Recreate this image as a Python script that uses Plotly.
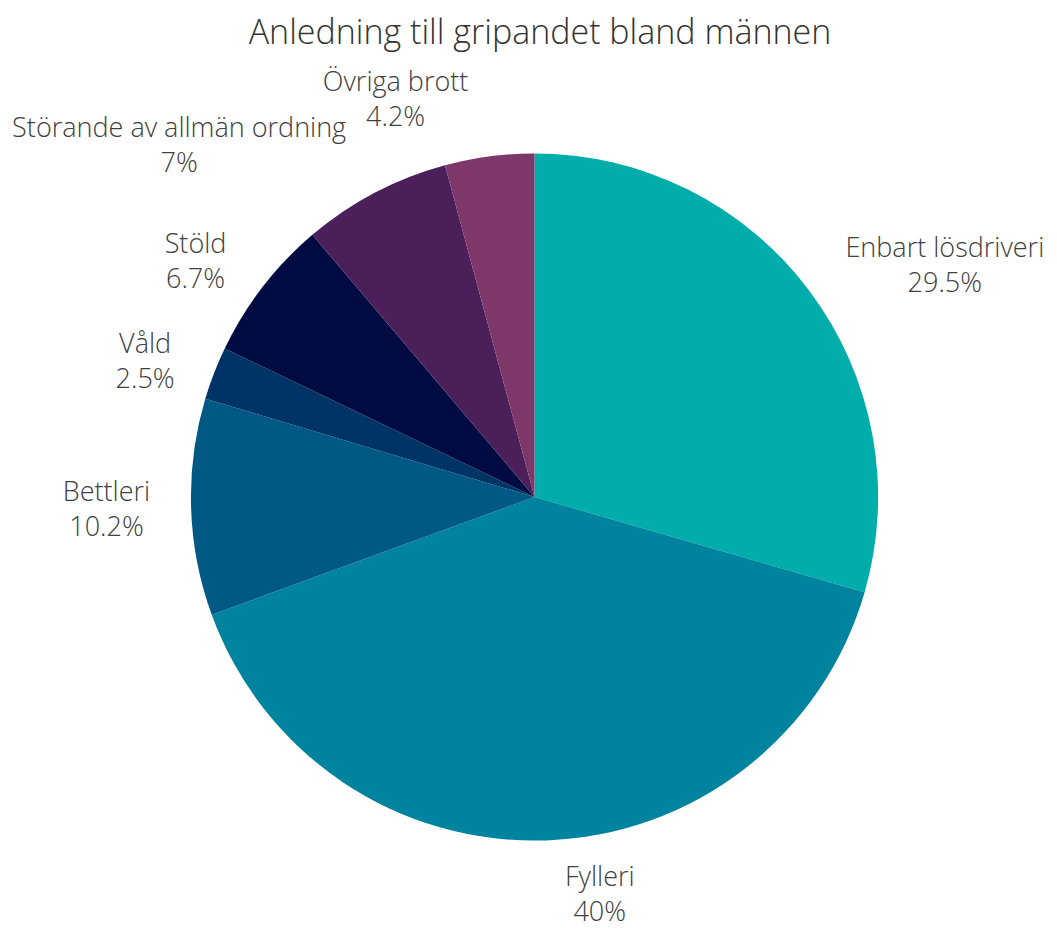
import plotly.graph_objects as go

labels = ["Enbart lösdriveri", "Fylleri", "Bettleri", "Våld", "Stöld",
          "Störande av allmän ordning", "Övriga brott"]
values = [29.5, 40, 10.2, 2.5, 6.7, 7, 4.2]
colors = ["#00ADAA", "#00839E", "#005984", "#003366", "#000B42", "#4A1F5A", "#7E3769"]
# which label layer carries each slice's label (separate layers avoid label collisions)
label_layer = [0, 2, 0, 1, 0, 1, 0]
layer_radius = {0: 368, 1: 368, 2: 362}  # px

W, H = 1057, 929
R_LABEL = 368   # outer radius of the label ring, px
R_PIE = 345     # radius of the visible pie, px
cx, cy = 525, 489  # pie centre in plotly page coords


def dom_for(r):
    inset = (1 - r / R_LABEL) / 2
    return [inset, 1 - inset]


label_font = dict(family="Open Sans", size=27, color="#404040", weight=300)

fig = go.Figure()
fig.add_trace(go.Pie(
    labels=labels, values=values, sort=False, direction="clockwise", rotation=0,
    marker=dict(colors=colors, line=dict(width=0)),
    textinfo="none", showlegend=False, hoverinfo="label+value",
    domain=dict(x=dom_for(R_PIE), y=dom_for(R_PIE)),
))
for layer, r in layer_radius.items():
    fig.add_trace(go.Pie(
        labels=labels, values=values, sort=False, direction="clockwise", rotation=0,
        marker=dict(colors=["rgba(0,0,0,0)"] * len(values), line=dict(width=0)),
        texttemplate="%{label}<br>%{value}%",
        textposition=["outside" if l == layer else "none" for l in label_layer],
        textfont=label_font,
        showlegend=False, hoverinfo="skip",
        domain=dict(x=dom_for(r), y=dom_for(r)),
    ))

fig.update_layout(
    width=W, height=H,
    margin=dict(l=cx - R_LABEL, r=W - (cx + R_LABEL), t=cy - R_LABEL, b=H - (cy + R_LABEL)),
    paper_bgcolor="white",
    title=dict(text="Anledning till gripandet bland männen", xref="container", x=532 / W,
               xanchor="center", yref="container", y=1 - 24 / H, yanchor="middle",
               font=dict(family="Open Sans", size=34, color="#333333", weight=300)),
    font=dict(family="Open Sans"),
)

fig.write_html("out.html")
